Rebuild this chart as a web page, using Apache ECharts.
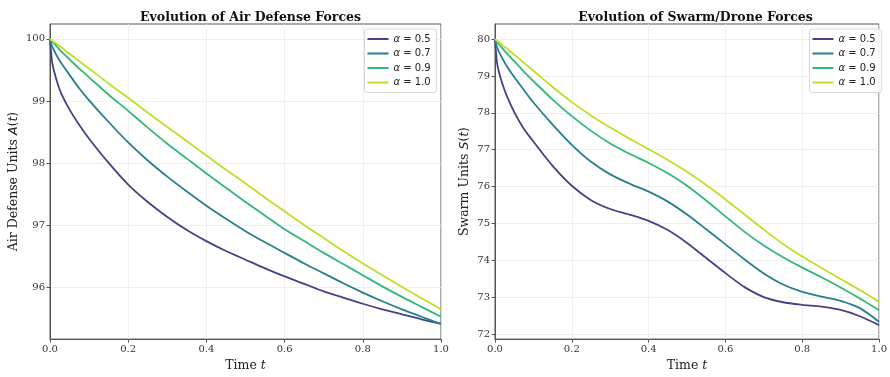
<!DOCTYPE html>
<html>
<head>
<meta charset="utf-8">
<script src="https://cdn.jsdelivr.net/npm/echarts@6/dist/echarts.min.js"></script>
<style>
html,body{margin:0;padding:0;background:#fff;}
#chart{width:890px;height:377px;}
</style>
</head>
<body>
<div id="chart"></div>
<script>
// ---- data ----
const T = [0, 0.005, 0.01, 0.02, 0.03, 0.05, 0.075, 0.1, 0.15, 0.2, 0.25, 0.3, 0.35, 0.4, 0.45, 0.5, 0.55, 0.6, 0.65, 0.7, 0.75, 0.8, 0.85, 0.9, 0.95, 1.0];
const alphaLabels = ['0.5', '0.7', '0.9', '1.0'];

const airA05 = [100, 99.64, 99.49, 99.27, 99.10, 98.86, 98.61, 98.39, 98.00, 97.65, 97.37, 97.13, 96.92, 96.74, 96.58, 96.44, 96.30, 96.17, 96.05, 95.93, 95.83, 95.73, 95.64, 95.56, 95.48, 95.41];
const airA07 = [100, 99.89, 99.82, 99.70, 99.60, 99.42, 99.20, 99.01, 98.66, 98.33, 98.04, 97.78, 97.54, 97.31, 97.10, 96.90, 96.72, 96.55, 96.38, 96.22, 96.06, 95.91, 95.77, 95.64, 95.52, 95.40];
const airA09 = [100, 99.96, 99.93, 99.86, 99.79, 99.67, 99.52, 99.38, 99.10, 98.84, 98.57, 98.31, 98.07, 97.83, 97.60, 97.37, 97.15, 96.93, 96.74, 96.55, 96.37, 96.19, 96.01, 95.84, 95.68, 95.52];
const airA10 = [100, 99.975, 99.95, 99.905, 99.86, 99.76, 99.64, 99.52, 99.28, 99.05, 98.81, 98.58, 98.35, 98.12, 97.89, 97.67, 97.44, 97.22, 97.00, 96.79, 96.58, 96.38, 96.19, 96.00, 95.82, 95.64];

const swA05 = [80, 79.38, 79.12, 78.76, 78.48, 78.02, 77.57, 77.22, 76.56, 76.02, 75.63, 75.39, 75.24, 75.07, 74.82, 74.47, 74.06, 73.65, 73.27, 73.00, 72.86, 72.79, 72.74, 72.65, 72.48, 72.24];
const swA07 = [80, 79.79, 79.66, 79.46, 79.28, 78.97, 78.62, 78.28, 77.68, 77.13, 76.67, 76.33, 76.08, 75.86, 75.59, 75.24, 74.84, 74.43, 74.02, 73.64, 73.34, 73.14, 73.01, 72.90, 72.70, 72.33];
const swA09 = [80, 79.93, 79.86, 79.74, 79.62, 79.40, 79.12, 78.86, 78.36, 77.91, 77.51, 77.17, 76.89, 76.64, 76.36, 76.02, 75.62, 75.19, 74.77, 74.40, 74.08, 73.80, 73.54, 73.26, 72.96, 72.64];
const swA10 = [80, 79.96, 79.92, 79.83, 79.75, 79.58, 79.36, 79.14, 78.70, 78.29, 77.93, 77.60, 77.30, 77.01, 76.72, 76.40, 76.04, 75.65, 75.24, 74.83, 74.44, 74.10, 73.79, 73.49, 73.19, 72.87];

const xTicks = [0, 0.2, 0.4, 0.6, 0.8, 1.0];
const yTicksAir = [96, 97, 98, 99, 100];
const yTicksSwarm = [72, 73, 74, 75, 76, 77, 78, 79, 80];

// ---- styling ----
const colors = ['#414487', '#277f8e', '#35b779', '#bddf26'];
const serif = 'DejaVu Serif';
const sans = 'DejaVu Sans';
const axisColor = '#555';
const gridColor = '#ebebeb';

const airSeries = [airA05, airA07, airA09, airA10];
const swSeries = [swA05, swA07, swA09, swA10];
const names = alphaLabels.map(a => 'α = ' + a);

function pairs(vals) { return T.map((t, i) => [t, vals[i]]); }

function makeSeries(arr, idx) {
  return arr.map((vals, i) => ({
    type: 'line', name: names[i], xAxisIndex: idx, yAxisIndex: idx,
    data: pairs(vals), showSymbol: false, symbol: 'none',
    smooth: 0.25,
    lineStyle: { width: 1.8, color: colors[i] }, itemStyle: { color: colors[i] },
    z: 3 + i
  }));
}

function xAxis(idx) {
  return {
    type: 'value', gridIndex: idx, min: 0, max: 1, interval: 0.2,
    name: '{n|Time }{i|t}', nameLocation: 'middle', nameGap: 18,
    nameTextStyle: { rich: { n: { fontFamily: serif, fontSize: 12.5, color: '#222' }, i: { fontFamily: serif, fontStyle: 'italic', fontSize: 12.5, color: '#222' } } },
    axisLine: { show: true, lineStyle: { color: axisColor, width: 1 } },
    axisTick: { show: true, length: 3.5, lineStyle: { color: axisColor }, customValues: xTicks },
    axisLabel: { fontFamily: serif, fontSize: 10, color: '#333', margin: 5, formatter: v => v.toFixed(1), customValues: xTicks },
    splitLine: { show: true, lineStyle: { color: gridColor, width: 0.8 } }
  };
}

function yAxis(idx, min, max, ticks, nameRich, gap) {
  return {
    type: 'value', gridIndex: idx, min: min, max: max,
    name: nameRich, nameLocation: 'middle', nameGap: gap, nameRotate: 90,
    nameTextStyle: { rich: {
      n: { fontFamily: serif, fontSize: 12.5, color: '#222' },
      i: { fontFamily: sans, fontStyle: 'italic', fontSize: 12.5, color: '#222' },
      p: { fontFamily: sans, fontSize: 12.5, color: '#222' } } },
    axisLine: { show: true, lineStyle: { color: axisColor, width: 1 } },
    axisTick: { show: true, length: 3.5, lineStyle: { color: axisColor }, customValues: ticks },
    axisLabel: { fontFamily: serif, fontSize: 10, color: '#333', margin: 5, customValues: ticks },
    splitLine: { show: true, lineStyle: { color: gridColor, width: 0.8 } }
  };
}

function legend(right) {
  return {
    orient: 'vertical', top: 29, right: right,
    data: names, icon: 'rect', itemWidth: 21, itemHeight: 2, itemGap: 2.5,
    backgroundColor: 'rgba(255,255,255,0.85)', borderColor: '#d8d8d8', borderWidth: 1, borderRadius: 3,
    padding: [4, 6, 4, 3],
    formatter: n => '{i|α}{n|' + n.slice(1) + '}',
    textStyle: { lineHeight: 12, rich: {
      i: { fontFamily: sans, fontStyle: 'italic', fontSize: 10, color: '#222' },
      n: { fontFamily: sans, fontSize: 10, color: '#222' } } }
  };
}

const chart = echarts.init(document.getElementById('chart'), null, { renderer: 'canvas' });
chart.setOption({
  animation: false,
  backgroundColor: '#fff',
  title: [
    { text: 'Evolution of Air Defense Forces', left: 245.5, top: 6, textAlign: 'center',
      textStyle: { fontFamily: serif, fontWeight: 'bold', fontSize: 12.5, color: '#111' } },
    { text: 'Evolution of Swarm/Drone Forces', left: 690.5, top: 6, textAlign: 'center',
      textStyle: { fontFamily: serif, fontWeight: 'bold', fontSize: 12.5, color: '#111' } }
  ],
  legend: [legend(453.3), legend(8.3)],
  grid: [
    { left: 50, right: 449, top: 24, bottom: 34, show: true, borderColor: axisColor, borderWidth: 1, backgroundColor: 'transparent' },
    { left: 495, right: 4.3, top: 24, bottom: 34, show: true, borderColor: axisColor, borderWidth: 1, backgroundColor: 'transparent' }
  ],
  xAxis: [xAxis(0), xAxis(1)],
  yAxis: [
    yAxis(0, 95.16, 100.24, yTicksAir, '{n|Air Defense Units }{i|A}{p|(}{i|t}{p|)}', 30),
    yAxis(1, 71.86, 80.41, yTicksSwarm, '{n|Swarm Units }{i|S}{p|(}{i|t}{p|)}', 24)
  ],
  series: makeSeries(airSeries, 0).concat(makeSeries(swSeries, 1))
});
</script>
</body>
</html>
